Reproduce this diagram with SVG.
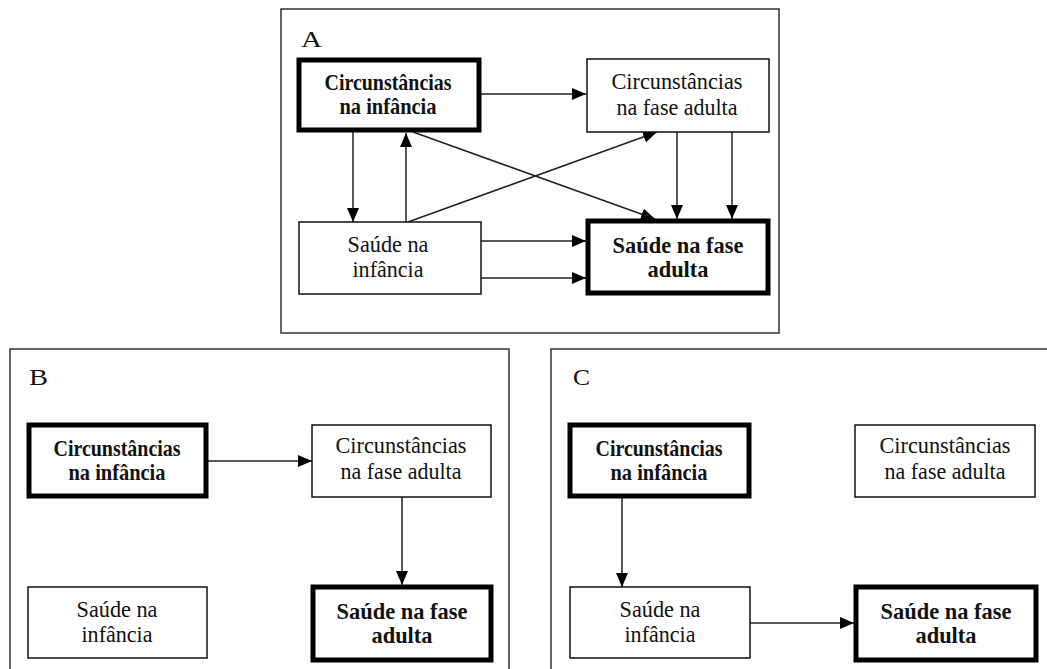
<svg xmlns="http://www.w3.org/2000/svg" width="1047" height="669" viewBox="0 0 1047 669">
<style>
.frame{fill:none;stroke:#333;stroke-width:1.5}
.box{fill:#fff;stroke:#111;stroke-width:1.5}
.tbox{fill:#fff;stroke:#000;stroke-width:5}
.t{font-family:"Liberation Serif","Times New Roman",serif;font-size:24px;fill:#111;text-anchor:middle}
.b{font-weight:bold}
.lbl{font-family:"Liberation Serif","Times New Roman",serif;font-size:24px;fill:#111}
.c{stroke:#222;stroke-width:1.5;fill:none;marker-end:url(#ah)}
</style>
<defs>
<marker id="ah" markerUnits="userSpaceOnUse" markerWidth="15" markerHeight="13" refX="14" refY="6" orient="auto">
<path d="M0,0 L14,6 L0,12 z" fill="#000"/>
</marker>
</defs>
<rect width="1047" height="669" fill="#fff"/>
<g id="frames">
<rect class="frame" x="281" y="9" width="498" height="324"/>
<rect class="frame" x="10" y="349" width="499" height="330"/>
<rect class="frame" x="551" y="349" width="510" height="330"/>
<text class="lbl" x="301" y="47" textLength="21" lengthAdjust="spacingAndGlyphs">A</text>
<text class="lbl" x="29" y="385" textLength="19" lengthAdjust="spacingAndGlyphs">B</text>
<text class="lbl" x="573" y="385" textLength="17" lengthAdjust="spacingAndGlyphs">C</text>
</g>
<g id="connectors">
<line class="c" x1="481" y1="94" x2="586" y2="94"/>
<line class="c" x1="353" y1="132" x2="353" y2="222"/>
<line class="c" x1="406" y1="222" x2="406" y2="133"/>
<line class="c" x1="413" y1="132" x2="655" y2="219"/>
<line class="c" x1="408" y1="222" x2="657" y2="132"/>
<line class="c" x1="677" y1="132" x2="677" y2="219"/>
<line class="c" x1="732" y1="132" x2="732" y2="219"/>
<line class="c" x1="481" y1="241" x2="586" y2="241"/>
<line class="c" x1="481" y1="278" x2="586" y2="278"/>
<line class="c" x1="208" y1="461" x2="312" y2="461"/>
<line class="c" x1="402" y1="497" x2="402" y2="585"/>
<line class="c" x1="622" y1="498" x2="622" y2="587"/>
<line class="c" x1="750" y1="623" x2="854" y2="623"/>
</g>
<g id="A1">
<rect class="tbox" x="299" y="60" width="180" height="70"/>
<text class="t b" x="388" y="90" textLength="127" lengthAdjust="spacingAndGlyphs">Circunstâncias</text>
<text class="t b" x="388" y="114" textLength="97" lengthAdjust="spacingAndGlyphs">na infância</text>
</g>
<g id="A2">
<rect class="box" x="587" y="59" width="182" height="73"/>
<text class="t" x="677" y="89" textLength="131" lengthAdjust="spacingAndGlyphs">Circunstâncias</text>
<text class="t" x="677" y="115" textLength="121" lengthAdjust="spacingAndGlyphs">na fase adulta</text>
</g>
<g id="A3">
<rect class="box" x="299" y="222" width="182" height="72"/>
<text class="t" x="388" y="252" textLength="81" lengthAdjust="spacingAndGlyphs">Saúde na</text>
<text class="t" x="388" y="277" textLength="71" lengthAdjust="spacingAndGlyphs">infância</text>
</g>
<g id="A4">
<rect class="tbox" x="588" y="221" width="180" height="72"/>
<text class="t b" x="678" y="253" textLength="131" lengthAdjust="spacingAndGlyphs">Saúde na fase</text>
<text class="t b" x="678" y="277" textLength="61" lengthAdjust="spacingAndGlyphs">adulta</text>
</g>
<g id="B1">
<rect class="tbox" x="29" y="425" width="177" height="71"/>
<text class="t b" x="117" y="456" textLength="127" lengthAdjust="spacingAndGlyphs">Circunstâncias</text>
<text class="t b" x="117" y="480" textLength="97" lengthAdjust="spacingAndGlyphs">na infância</text>
</g>
<g id="B2">
<rect class="box" x="312" y="425" width="179" height="72"/>
<text class="t" x="401" y="453" textLength="131" lengthAdjust="spacingAndGlyphs">Circunstâncias</text>
<text class="t" x="401" y="479" textLength="121" lengthAdjust="spacingAndGlyphs">na fase adulta</text>
</g>
<g id="B3">
<rect class="box" x="28" y="587" width="179" height="71"/>
<text class="t" x="117" y="617" textLength="81" lengthAdjust="spacingAndGlyphs">Saúde na</text>
<text class="t" x="117" y="642" textLength="71" lengthAdjust="spacingAndGlyphs">infância</text>
</g>
<g id="B4">
<rect class="tbox" x="313" y="587" width="178" height="73"/>
<text class="t b" x="402" y="619" textLength="131" lengthAdjust="spacingAndGlyphs">Saúde na fase</text>
<text class="t b" x="402" y="643" textLength="61" lengthAdjust="spacingAndGlyphs">adulta</text>
</g>
<g id="C1">
<rect class="tbox" x="570" y="425" width="179" height="71"/>
<text class="t b" x="659" y="456" textLength="127" lengthAdjust="spacingAndGlyphs">Circunstâncias</text>
<text class="t b" x="659" y="480" textLength="97" lengthAdjust="spacingAndGlyphs">na infância</text>
</g>
<g id="C2">
<rect class="box" x="855" y="425" width="180" height="72"/>
<text class="t" x="945" y="453" textLength="131" lengthAdjust="spacingAndGlyphs">Circunstâncias</text>
<text class="t" x="945" y="479" textLength="121" lengthAdjust="spacingAndGlyphs">na fase adulta</text>
</g>
<g id="C3">
<rect class="box" x="570" y="587" width="180" height="71"/>
<text class="t" x="660" y="617" textLength="81" lengthAdjust="spacingAndGlyphs">Saúde na</text>
<text class="t" x="660" y="642" textLength="71" lengthAdjust="spacingAndGlyphs">infância</text>
</g>
<g id="C4">
<rect class="tbox" x="856" y="587" width="180" height="73"/>
<text class="t b" x="946" y="619" textLength="131" lengthAdjust="spacingAndGlyphs">Saúde na fase</text>
<text class="t b" x="946" y="643" textLength="61" lengthAdjust="spacingAndGlyphs">adulta</text>
</g>
</svg>
